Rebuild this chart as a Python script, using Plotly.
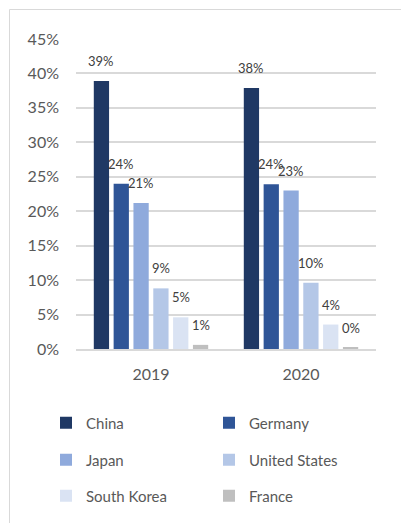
import plotly.graph_objects as go

# Share by country, per year (percent)
years = ["2019", "2020"]
countries = ["China", "Germany", "Japan", "United States", "South Korea", "France"]
share_2019 = [38.9, 24.0, 21.2, 8.8, 4.6, 0.6]
share_2020 = [37.9, 23.9, 23.0, 9.6, 3.55, 0.2]
colors = ["#1f3864", "#2f5597", "#8faadc", "#b4c7e7", "#dae3f3", "#bfbfbf"]
y_ticks = list(range(0, 50, 5))

W, H = 401, 523
L, R, T, B = 76, 25, 39, 174
plot_w = W - L - R
plot_h = H - T - B

text_color = "#595959"
label_color = "#404040"
font_family = "Lato, 'Open Sans', sans-serif"


def py_to_paper(py):
    return (H - B - py) / plot_h


def px_to_paper(px):
    return (px - L) / plot_w


# Legend laid out as a 2 x 3 grid: one single-entry legend per country
legend_cols_px = [46, 209]
legend_rows_px = [423, 460, 496]
legend_ids = ["legend"] + [f"legend{k}" for k in range(2, len(countries) + 1)]

fig = go.Figure()
for i, name in enumerate(countries):
    fig.add_trace(go.Bar(
        name=name,
        x=years,
        y=[share_2019[i], share_2020[i]],
        marker=dict(color=colors[i], line=dict(width=0)),
        legend=legend_ids[i],
        showlegend=True,
        hoverinfo="skip",
    ))

# Value labels centred above each bar (category axis: positions by index)
bargap = 0.207
bargroupgap = 0.23
cat_px = plot_w / len(years)
step = cat_px * (1 - bargap) / len(countries)
annotations = []
for i in range(len(countries)):
    for j, vals in enumerate([share_2019, share_2020]):
        v = vals[i]
        annotations.append(dict(
            x=j, y=v, xref="x", yref="y",
            text=f"{round(v)}%",
            showarrow=False,
            xshift=(i - (len(countries) - 1) / 2) * step,
            yshift=20,
            font=dict(family=font_family, size=13, color=label_color),
        ))

# Light frame along the top and left edges
shapes = [
    dict(type="line", xref="paper", yref="paper",
         x0=px_to_paper(9.5), x1=px_to_paper(W + 5),
         y0=py_to_paper(9.5), y1=py_to_paper(9.5),
         line=dict(color="#d9d9d9", width=1)),
    dict(type="line", xref="paper", yref="paper",
         x0=px_to_paper(9.5), x1=px_to_paper(9.5),
         y0=py_to_paper(9.5), y1=py_to_paper(H + 5),
         line=dict(color="#d9d9d9", width=1)),
]

legend_layouts = {}
for i, lid in enumerate(legend_ids):
    legend_layouts[lid] = dict(
        orientation="v",
        xanchor="left",
        yanchor="middle",
        x=px_to_paper(legend_cols_px[i % 2]),
        y=py_to_paper(legend_rows_px[i // 2]),
        font=dict(family=font_family, size=15, color=text_color),
        bgcolor="rgba(0,0,0,0)",
        itemclick=False,
        itemdoubleclick=False,
        visible=True,
    )

fig.update_layout(
    width=W,
    height=H,
    margin=dict(l=L, r=R, t=T, b=B, autoexpand=False),
    paper_bgcolor="white",
    plot_bgcolor="white",
    showlegend=True,
    barmode="group",
    bargap=bargap,
    bargroupgap=bargroupgap,
    font=dict(family=font_family, color=text_color),
    xaxis=dict(
        type="category",
        range=[-0.5, len(years) - 0.5],
        showgrid=False,
        showline=True,
        linecolor="#d9d9d9",
        linewidth=1.5,
        ticks="",
        tickfont=dict(size=16, color=text_color),
        ticklabelstandoff=10,
        fixedrange=True,
    ),
    yaxis=dict(
        range=[0, 45],
        tickvals=y_ticks,
        ticktext=[f"{t}%" for t in y_ticks],
        showgrid=True,
        gridcolor="#d9d9d9",
        gridwidth=1.5,
        zeroline=False,
        showline=False,
        ticks="",
        tickfont=dict(size=16, color=text_color),
        ticklabelstandoff=16,
        fixedrange=True,
    ),
    annotations=annotations,
    shapes=shapes,
    **legend_layouts,
)

fig.write_html("out.html")
